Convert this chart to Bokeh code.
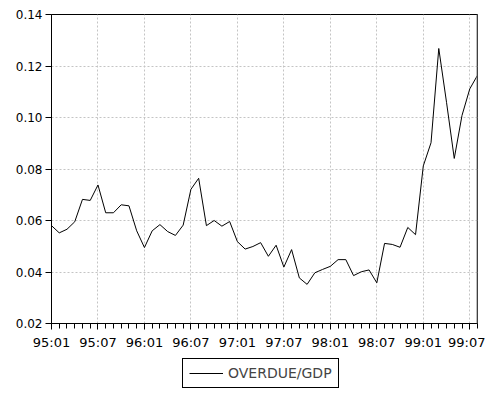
from bokeh.plotting import figure
from bokeh.layouts import column
from bokeh.models import (FixedTicker, Range1d, Legend, LegendItem, Span,
                          ColumnDataSource, NumeralTickFormatter)
from bokeh.embed import file_html
from bokeh.resources import INLINE

months = [f"{y:02d}:{m:02d}" for y in range(95, 100) for m in range(1, 13)][:56]

overdue_gdp = [0.0580, 0.0552, 0.0566, 0.0595, 0.0682, 0.0678, 0.0738, 0.0630, 0.0630, 0.0661, 0.0657, 0.0560,
               0.0495, 0.0560, 0.0584, 0.0557, 0.0542, 0.0582, 0.0721, 0.0764, 0.0580, 0.0600, 0.0578, 0.0596,
               0.0518, 0.0489, 0.0499, 0.0514, 0.0461, 0.0504, 0.0419, 0.0487, 0.0377, 0.0352, 0.0397, 0.0410,
               0.0422, 0.0448, 0.0448, 0.0386, 0.0401, 0.0408, 0.0358, 0.0511, 0.0507, 0.0496, 0.0573, 0.0545,
               0.0812, 0.0902, 0.1268, 0.1059, 0.0841, 0.1008, 0.1111, 0.1164]

x_tick_labels = ["95:01", "95:07", "96:01", "96:07", "97:01", "97:07",
                 "98:01", "98:07", "99:01", "99:07"]
y_ticks = [0.02, 0.04, 0.06, 0.08, 0.10, 0.12, 0.14]
series_name = "OVERDUE/GDP"

src = ColumnDataSource(dict(x=list(range(len(months))), y=overdue_gdp, month=months))

p = figure(width=485, height=357, output_backend="svg", toolbar_location=None,
           x_range=Range1d(0, len(months) - 1), y_range=Range1d(y_ticks[0], y_ticks[-1]),
           min_border_left=51, min_border_right=8, min_border_top=14, min_border_bottom=34)
p.background_fill_color = "white"
p.border_fill_color = "white"
p.outline_line_color = "black"
p.outline_line_width = 1

r = p.line("x", "y", source=src, line_color="black", line_width=1)

major_pos = [months.index(t) for t in x_tick_labels]
xt = FixedTicker(ticks=major_pos, minor_ticks=list(range(len(months))))
p.xaxis.ticker = xt
p.xaxis.major_label_overrides = {pos: lab for pos, lab in zip(major_pos, x_tick_labels)}
p.xaxis.major_tick_out = 6
p.xaxis.major_tick_in = 0
p.xaxis.minor_tick_out = 5
p.xaxis.minor_tick_in = 0
p.xaxis.major_label_standoff = 5
p.xaxis.major_label_text_font = "DejaVu Sans"
p.xaxis.major_label_text_font_size = "13px"

p.yaxis.ticker = FixedTicker(ticks=y_ticks, minor_ticks=[])
p.yaxis.formatter = NumeralTickFormatter(format="0.00")
p.yaxis.major_tick_out = 6
p.yaxis.major_tick_in = 0
p.yaxis.major_label_standoff = 3
p.yaxis.major_label_text_font = "DejaVu Sans"
p.yaxis.major_label_text_font_size = "12px"

for ax in (p.xaxis[0], p.yaxis[0]):
    ax.axis_line_color = "black"
    ax.major_tick_line_color = "black"
    ax.minor_tick_line_color = "black"
    ax.major_label_text_color = "black"

p.xgrid.ticker = FixedTicker(ticks=major_pos)
p.ygrid.ticker = FixedTicker(ticks=y_ticks)
for g in (p.xgrid[0], p.ygrid[0]):
    g.grid_line_color = "#c4c4c4"
    g.grid_line_dash = "2 2"
    g.grid_line_width = 1

p.add_layout(Span(location=len(months) - 1, dimension="height",
                  line_color="#808080", line_width=2))

# legend strip below the chart
lf = figure(width=485, height=38, output_backend="svg", toolbar_location=None,
            x_axis_type=None, y_axis_type=None, x_range=Range1d(0, 1), y_range=Range1d(0, 1),
            min_border=0, outline_line_color=None)
lf.grid.visible = False
lf.background_fill_color = "white"
lf.border_fill_color = "white"
lr = lf.line(x=[-2, -1], y=[-1, -1], line_color="black", line_width=1)

legend = Legend(items=[LegendItem(label=series_name, renderers=[lr])],
                location=(131, 7), orientation="horizontal",
                border_line_color="black", border_line_width=1, border_line_alpha=1.0,
                background_fill_alpha=1.0, padding=6, margin=0,
                glyph_width=34, glyph_height=14, label_height=14,
                label_standoff=5, label_text_font="DejaVu Sans",
                label_text_font_size="14px")
lf.add_layout(legend, "center")

layout = column(p, lf, spacing=0)
open("out.html", "w").write(file_html(layout, INLINE))
